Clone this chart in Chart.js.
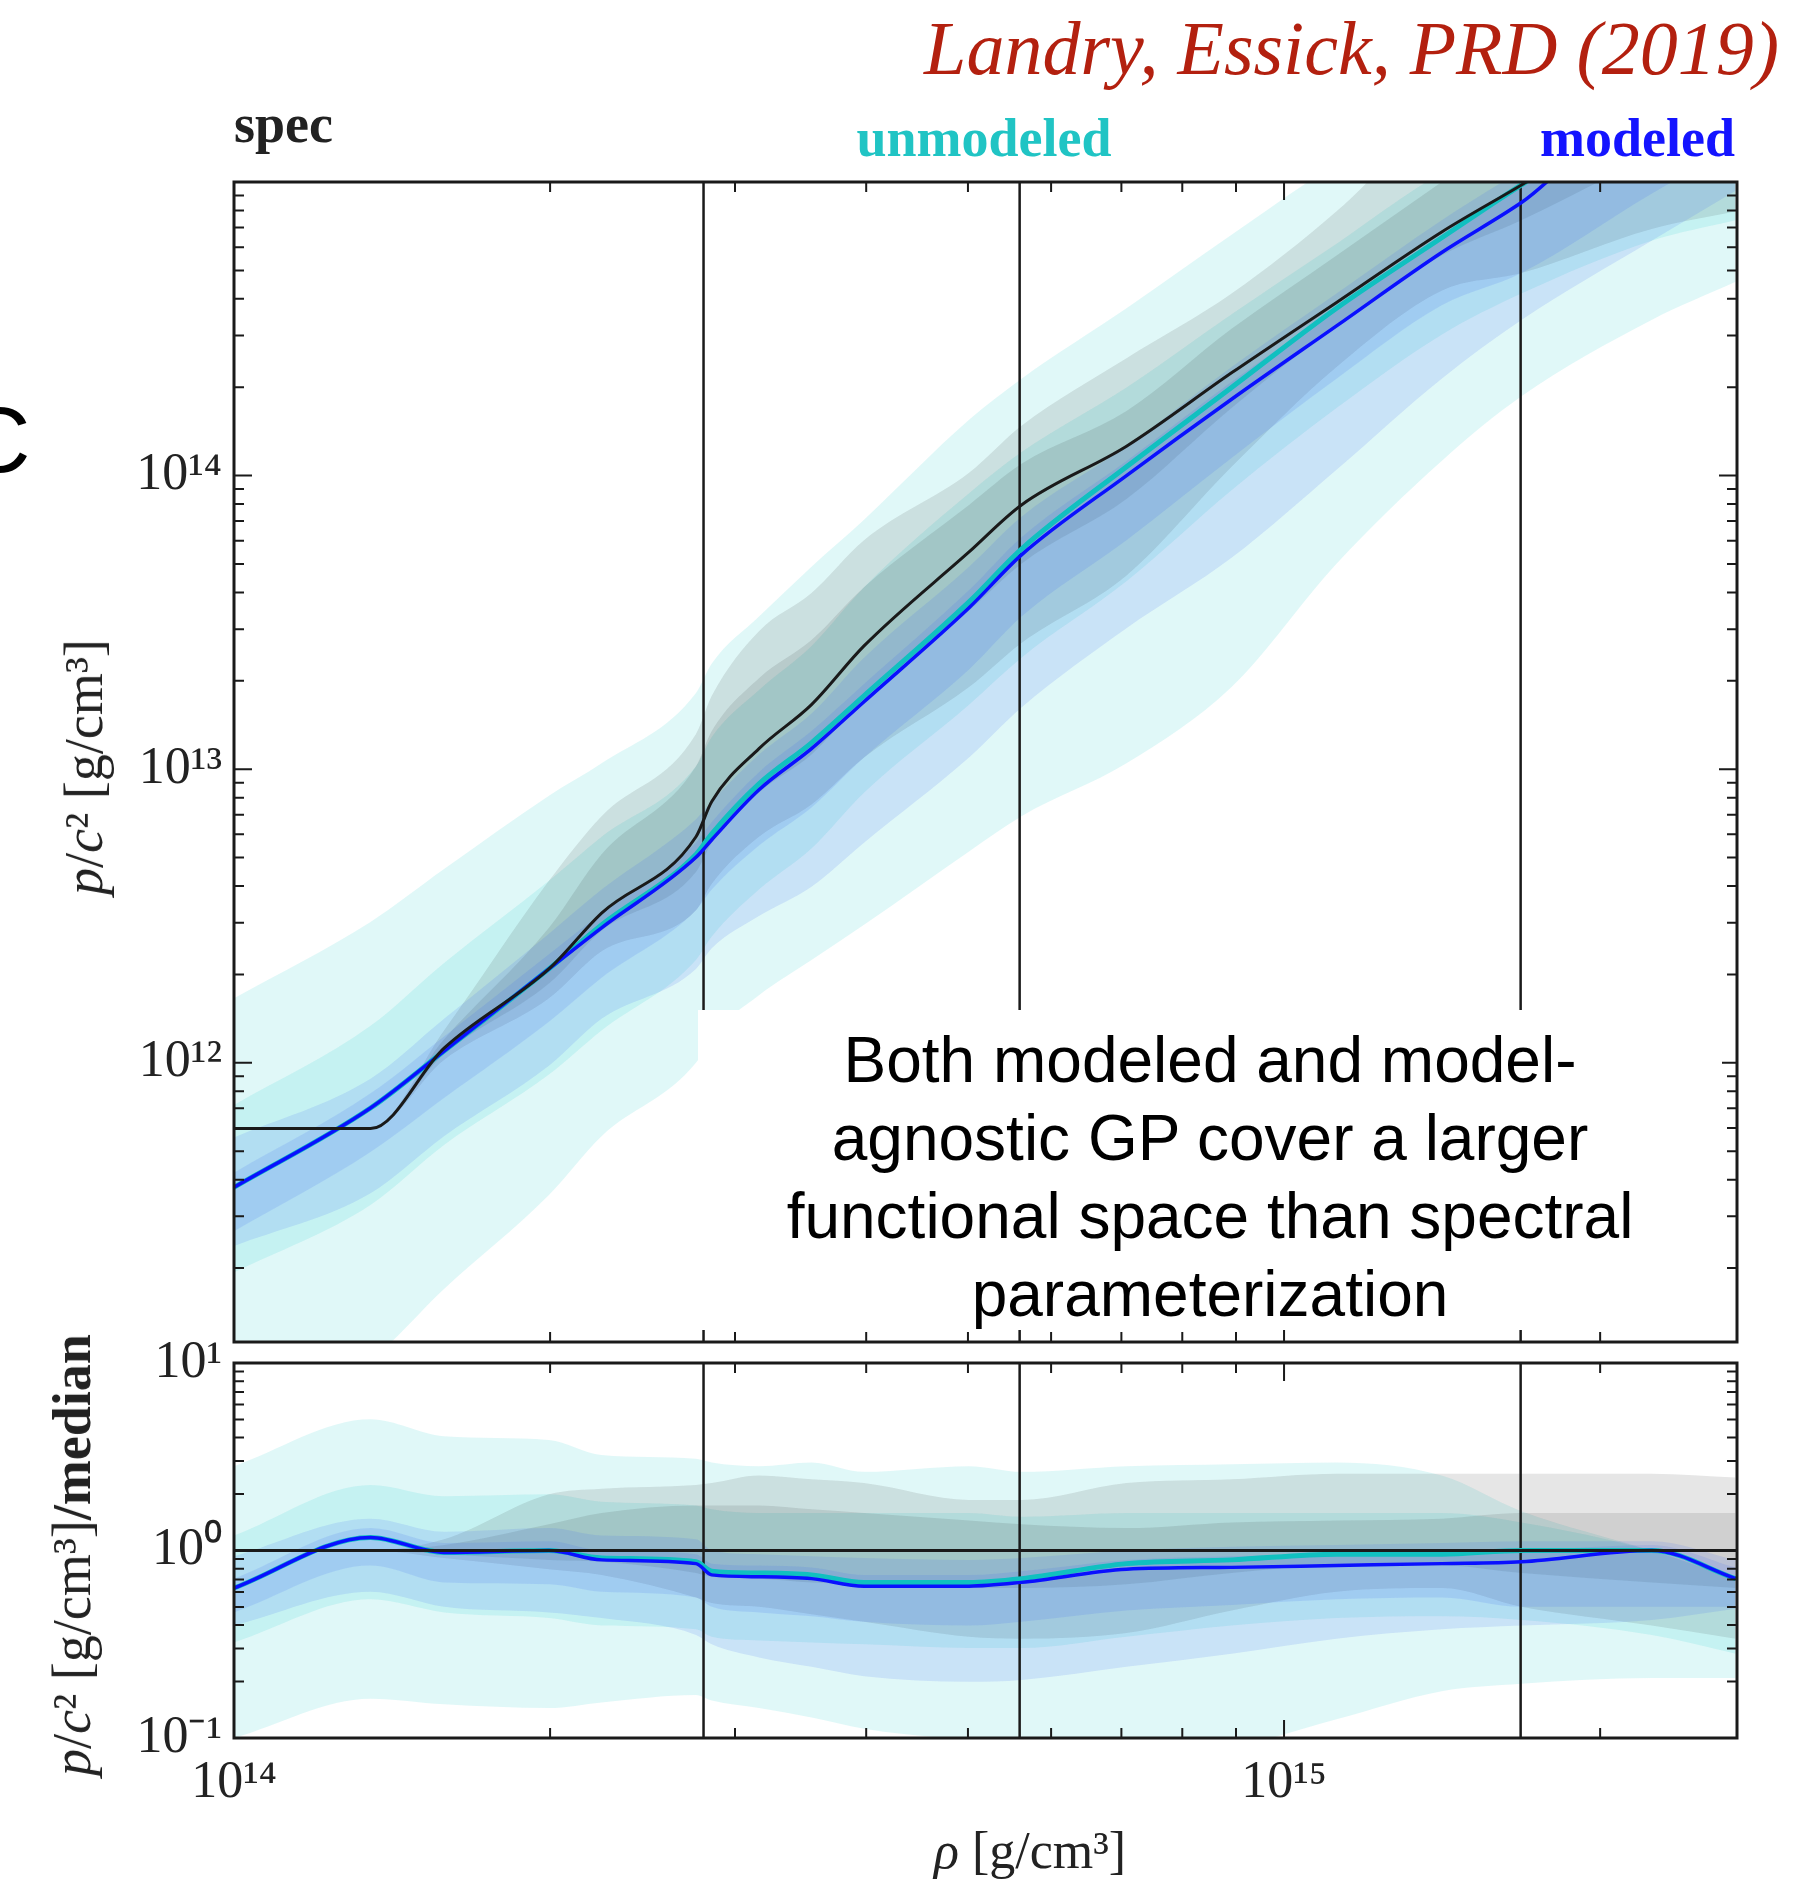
<!DOCTYPE html>
<html lang="en">
<head>
  <meta charset="UTF-8">
  <title>p/c² vs ρ – spec / unmodeled / modeled</title>
  <script src="https://cdn.jsdelivr.net/npm/chart.js"></script>
  <style>
    html, body { margin: 0; padding: 0; background: #fff; }
    #page { position: relative; width: 1808px; height: 1879px; overflow: hidden; font-family: "Liberation Serif", serif; color: #222; }
    #topWrap { position: absolute; left: 0; top: 0; }
    #botWrap { position: absolute; left: 0; top: 1320px; }
    .lbl { position: absolute; white-space: nowrap; line-height: 1; }
    #title { right: 29px; top: 48px; transform: translateY(-50%); font-style: italic; font-size: 76px; color: #b3200f; }
    #specLbl { left: 234px; top: 124px; transform: translateY(-50%); font-weight: bold; font-size: 54px; color: #222; }
    #unmodLbl { left: 984px; top: 138px; transform: translate(-50%, -50%); font-weight: bold; font-size: 54px; color: #20c4c4; }
    #modLbl { right: 73px; top: 138px; transform: translateY(-50%); font-weight: bold; font-size: 54px; color: #1414ff; }
    #cLbl { left: -36px; top: 440px; transform: translateY(-50%); font-family: "Liberation Sans", sans-serif; font-size: 92px; color: #000; }
    .ylab { font-size: 54px; transform: translate(-50%, -50%) rotate(-90deg); }
    #ylabTop { left: 84px; top: 767px; }
    #ylabBot { left: 72px; top: 1555px; }
    #xlab { left: 1030px; top: 1851px; transform: translate(-50%, -50%); font-size: 52px; }
    #note { position: absolute; left: 698px; top: 1010px; width: 1024px; height: 320px; background: #fff;
            font-family: "Liberation Sans", sans-serif; font-size: 64px; line-height: 78px; text-align: center;
            color: #000; padding-top: 11px; box-sizing: border-box; }
  </style>
</head>
<body>
<div id="page">
  <div id="topWrap"><canvas id="topChart" width="1808" height="1352"></canvas></div>
  <div id="botWrap"><canvas id="botChart" width="1808" height="559"></canvas></div>

  <div id="title" class="lbl">Landry, Essick, PRD (2019)</div>
  <div id="specLbl" class="lbl">spec</div>
  <div id="unmodLbl" class="lbl">unmodeled</div>
  <div id="modLbl" class="lbl">modeled</div>
  <div id="cLbl" class="lbl">C</div>
  <div id="ylabTop" class="lbl ylab"><i>p</i>/<i>c</i>² [g/cm³]</div>
  <div id="ylabBot" class="lbl ylab"><i>p</i>/<i>c</i>² [g/cm³]<b>/median</b></div>
  <div id="xlab" class="lbl"><i>ρ</i> [g/cm³]</div>
  <div id="note">Both modeled and model-<br>agnostic GP cover a larger<br>functional space than spectral<br>parameterization</div>
</div>

<script>
  // densities (g/cm^3) where the curves were read
  const rhoGrid = [1.0e14, 1.349e14, 1.585e14, 1.995e14, 2.239e14, 2.754e14, 2.851e14, 3.162e14, 3.548e14, 3.981e14,
                   5.012e14, 5.623e14, 7.079e14, 8.913e14, 1.122e15, 1.413e15, 1.683e15, 2.239e15, 2.692e15];

  // top panel, log10(p/c^2)
  const topSpecMed   = [11.776, 11.776, 12.05, 12.32, 12.51, 12.77, 12.89, 13.07, 13.22, 13.42, 13.74, 13.90, 14.10, 14.35, 14.59, 14.83, 14.99, 15.26, 15.42];
  const topModMed    = [11.576, 11.846, 12.04, 12.32, 12.46, 12.70, 12.76, 12.93, 13.07, 13.23, 13.55, 13.73, 14.00, 14.26, 14.51, 14.76, 14.93, 15.26, 15.27];
  const topUnmodMed  = [11.576, 11.846, 12.04, 12.32, 12.47, 12.71, 12.78, 12.95, 13.09, 13.25, 13.57, 13.75, 14.03, 14.30, 14.57, 14.81, 14.99, 15.26, 15.27];
  const topUnmod90Hi = [12.22, 12.48, 12.66, 12.91, 13.02, 13.26, 13.36, 13.52, 13.69, 13.85, 14.19, 14.33, 14.57, 14.82, 15.06, 15.23, 15.35, 15.45, 15.60];
  const topUnmod90Lo = [10.78, 10.99, 11.23, 11.55, 11.75, 12.00, 12.09, 12.23, 12.35, 12.47, 12.72, 12.84, 13.02, 13.28, 13.70, 14.05, 14.27, 14.53, 14.66];
  const topUnmod50Hi = [11.856, 12.126, 12.34, 12.62, 12.77, 13.01, 13.11, 13.27, 13.42, 13.62, 13.94, 14.08, 14.30, 14.55, 14.79, 15.03, 15.14, 15.26, 15.27];
  const topUnmod50Lo = [11.286, 11.516, 11.72, 11.96, 12.11, 12.35, 12.43, 12.59, 12.73, 12.92, 13.22, 13.38, 13.64, 13.95, 14.23, 14.48, 14.62, 14.80, 14.87];
  const topMod90Hi   = [11.746, 11.946, 12.15, 12.44, 12.59, 12.83, 12.89, 13.05, 13.19, 13.38, 13.69, 13.86, 14.10, 14.37, 14.62, 14.87, 15.04, 15.31, 15.37];
  const topMod90Lo   = [11.376, 11.556, 11.75, 11.99, 12.15, 12.32, 12.39, 12.50, 12.60, 12.75, 13.04, 13.21, 13.48, 13.72, 14.02, 14.33, 14.53, 14.80, 14.97];
  const topMod50Hi   = [11.626, 11.896, 12.09, 12.37, 12.51, 12.75, 12.82, 12.99, 13.13, 13.29, 13.61, 13.79, 14.05, 14.32, 14.57, 14.82, 14.99, 15.29, 15.33];
  const topMod50Lo   = [11.426, 11.696, 11.88, 12.14, 12.29, 12.52, 12.59, 12.74, 12.87, 13.04, 13.34, 13.52, 13.78, 14.06, 14.33, 14.58, 14.69, 14.96, 15.12];
  const topSpec90Hi  = [11.776, 11.776, 12.11, 12.62, 12.84, 13.12, 13.25, 13.47, 13.60, 13.78, 14.01, 14.17, 14.40, 14.62, 14.90, 15.24, 15.40, 15.67, 15.81];
  const topSpec90Lo  = [11.776, 11.776, 12.01, 12.22, 12.38, 12.52, 12.61, 12.77, 12.88, 13.04, 13.28, 13.43, 13.66, 14.03, 14.37, 14.63, 14.69, 14.84, 14.90];
  const topSpec50Hi  = [11.776, 11.776, 12.08, 12.46, 12.71, 13.01, 13.13, 13.31, 13.44, 13.62, 13.90, 14.04, 14.22, 14.50, 14.75, 15.00, 15.19, 15.46, 15.62];
  const topSpec50Lo  = [11.776, 11.776, 12.03, 12.27, 12.45, 12.65, 12.75, 12.92, 13.05, 13.24, 13.54, 13.70, 13.92, 14.23, 14.51, 14.75, 14.87, 15.09, 15.22];

  // bottom panel, log10(ratio to spec median)
  const botUnmod90Hi = [0.45, 0.70, 0.61, 0.59, 0.51, 0.49, 0.47, 0.45, 0.47, 0.42, 0.45, 0.42, 0.45, 0.46, 0.47, 0.40, 0.21, 0.00, -0.15];
  const botUnmod90Lo = [-1.00, -0.79, -0.82, -0.84, -0.81, -0.77, -0.80, -0.84, -0.89, -0.95, -1.02, -1.08, -1.10, -1.05, -0.90, -0.75, -0.71, -0.68, -0.68];
  const botUnmod50Hi = [0.08, 0.35, 0.29, 0.30, 0.26, 0.24, 0.22, 0.20, 0.20, 0.20, 0.20, 0.18, 0.20, 0.20, 0.20, 0.20, 0.15, 0.00, -0.15];
  const botUnmod50Lo = [-0.49, -0.26, -0.33, -0.36, -0.40, -0.42, -0.46, -0.48, -0.49, -0.50, -0.52, -0.52, -0.46, -0.40, -0.36, -0.35, -0.37, -0.45, -0.55];
  const botMod90Hi   = [-0.03, 0.17, 0.10, 0.12, 0.08, 0.06, 0.00, -0.02, -0.03, -0.04, -0.05, -0.04, 0.00, 0.02, 0.03, 0.04, 0.05, 0.05, -0.05];
  const botMod90Lo   = [-0.40, -0.22, -0.30, -0.33, -0.36, -0.45, -0.50, -0.57, -0.62, -0.67, -0.70, -0.69, -0.62, -0.55, -0.47, -0.42, -0.40, -0.37, -0.31];
  const botMod50Hi   = [-0.15, 0.12, 0.04, 0.05, 0.00, -0.02, -0.07, -0.08, -0.09, -0.13, -0.13, -0.11, -0.05, -0.03, -0.02, -0.01, 0.00, 0.03, -0.09];
  const botMod50Lo   = [-0.33, -0.08, -0.17, -0.18, -0.22, -0.25, -0.30, -0.33, -0.35, -0.38, -0.40, -0.38, -0.32, -0.29, -0.26, -0.25, -0.30, -0.30, -0.30];
  const botSpec90Hi  = [0, 0, 0.06, 0.30, 0.33, 0.35, 0.36, 0.40, 0.38, 0.36, 0.27, 0.27, 0.36, 0.38, 0.41, 0.41, 0.41, 0.41, 0.39];
  const botSpec90Lo  = [0, 0, -0.04, -0.10, -0.13, -0.25, -0.28, -0.30, -0.34, -0.38, -0.46, -0.47, -0.44, -0.32, -0.22, -0.20, -0.30, -0.40, -0.47];
  const botSpec50Hi  = [0, 0, 0.03, 0.14, 0.20, 0.24, 0.24, 0.24, 0.22, 0.20, 0.16, 0.14, 0.12, 0.15, 0.16, 0.17, 0.20, 0.20, 0.20];
  const botSpec50Lo  = [0, 0, -0.02, -0.05, -0.06, -0.12, -0.14, -0.15, -0.17, -0.18, -0.20, -0.20, -0.18, -0.12, -0.08, -0.08, -0.12, -0.17, -0.20];
  const botModMed    = [-0.20, 0.07, -0.01, 0.00, -0.05, -0.07, -0.13, -0.14, -0.15, -0.19, -0.19, -0.17, -0.10, -0.09, -0.08, -0.07, -0.06, 0.00, -0.15];
  const botUnmodMed  = [-0.20, 0.07, -0.01, 0.00, -0.04, -0.06, -0.11, -0.12, -0.13, -0.17, -0.17, -0.15, -0.07, -0.05, -0.02, -0.02, 0.00, 0.00, -0.15];

  // nuclear saturation density and multiples
  const refRho = [2.8e14, 5.6e14, 1.68e15];

  const xRange = [1e14, 2.7e15];
  const xTicks = [1e14, 1e15];
  const xTickLabels = ['10¹⁴', '10¹⁵'];
  const topYRange = [1.12e11, 1e15];
  const topYTicks = [1e12, 1e13, 1e14];
  const topYTickLabels = ['10¹²', '10¹³', '10¹⁴'];
  const botYRange = [0.1, 10];
  const botYTicks = [0.1, 1, 10];
  const botYTickLabels = ['10⁻¹', '10⁰', '10¹'];

  const CYAN_FILL = 'rgba(0, 200, 200, 0.12)';
  const GRAY_FILL = 'rgba(30, 30, 30, 0.11)';
  const BLUE_FILL = 'rgba(60, 100, 240, 0.14)';

  function pts(logs) {
    return rhoGrid.map((r, i) => ({ x: r, y: Math.pow(10, logs[i]) }));
  }

  function band(hi, lo, color, order) {
    return [
      { data: pts(hi), fill: '+1', backgroundColor: color, borderColor: 'transparent', borderWidth: 0, pointRadius: 0, cubicInterpolationMode: 'monotone', order },
      { data: pts(lo), fill: false, borderColor: 'transparent', borderWidth: 0, pointRadius: 0, cubicInterpolationMode: 'monotone', order }
    ];
  }

  function curve(logs, color, width, order) {
    return { data: pts(logs), fill: false, borderColor: color, borderWidth: width, pointRadius: 0, cubicInterpolationMode: 'monotone', order };
  }

  function vlines(yLo, yHi) {
    return refRho.map(r => ({
      data: [{ x: r, y: yLo }, { x: r, y: yHi }],
      fill: false, borderColor: '#1a1a1a', borderWidth: 2.5, pointRadius: 0, order: 1
    }));
  }

  function logTickValues(min, max) {
    const out = [];
    for (let d = Math.floor(Math.log10(min)); d <= Math.ceil(Math.log10(max)); d++) {
      for (let m = 1; m < 10; m++) {
        const v = m * Math.pow(10, d);
        if (v >= min * 0.999 && v <= max * 1.001) out.push([v, m === 1]);
      }
    }
    return out;
  }

  // inward ticks on all four sides plus the box, matplotlib style
  const frameTicks = {
    id: 'frameTicks',
    afterDatasetsDraw(chart) {
      const { ctx, chartArea: a } = chart;
      const sx = chart.scales.x, sy = chart.scales.y;
      ctx.save();
      ctx.strokeStyle = '#1a1a1a';
      ctx.lineWidth = 2;
      ctx.beginPath();
      logTickValues(sx.min, sx.max).forEach(([v, major]) => {
        const p = sx.getPixelForValue(v);
        const len = major ? 18 : 10;
        ctx.moveTo(p, a.bottom); ctx.lineTo(p, a.bottom - len);
        ctx.moveTo(p, a.top); ctx.lineTo(p, a.top + len);
      });
      logTickValues(sy.min, sy.max).forEach(([v, major]) => {
        const p = sy.getPixelForValue(v);
        const len = major ? 18 : 10;
        ctx.moveTo(a.left, p); ctx.lineTo(a.left + len, p);
        ctx.moveTo(a.right, p); ctx.lineTo(a.right - len, p);
      });
      ctx.stroke();
      ctx.lineWidth = 3;
      ctx.strokeRect(a.left, a.top, a.right - a.left, a.bottom - a.top);
      ctx.restore();
    }
  };

  const tickFont = { family: 'Liberation Serif', size: 52 };

  function yScale(range, ticks, labels) {
    return {
      type: 'logarithmic', min: range[0], max: range[1],
      afterFit: s => { s.width = 234; s.paddingTop = 0; s.paddingBottom = 0; },
      afterBuildTicks: s => { s.ticks = ticks.map(v => ({ value: v })); },
      ticks: { callback: (v, i) => labels[i], font: tickFont, color: '#222', padding: 12, autoSkip: false },
      grid: { display: false, drawTicks: false },
      border: { display: false }
    };
  }

  const commonOpts = {
    responsive: false,
    animation: false,
    events: [],
    plugins: { legend: { display: false }, tooltip: { enabled: false } }
  };

  // top panel
  new Chart(document.getElementById('topChart'), {
    type: 'line',
    data: {
      datasets: [
        curve(topSpecMed, '#1a1a1a', 3, 0),
        curve(topModMed, '#0a10ff', 3.5, 0),
        curve(topUnmodMed, '#10c0c0', 5, 0.5),
        ...vlines(1e10, 1e16),
        ...band(topMod50Hi, topMod50Lo, BLUE_FILL, 2),
        ...band(topMod90Hi, topMod90Lo, BLUE_FILL, 3),
        ...band(topSpec50Hi, topSpec50Lo, GRAY_FILL, 4),
        ...band(topSpec90Hi, topSpec90Lo, GRAY_FILL, 5),
        ...band(topUnmod50Hi, topUnmod50Lo, CYAN_FILL, 6),
        ...band(topUnmod90Hi, topUnmod90Lo, CYAN_FILL, 7)
      ]
    },
    options: {
      ...commonOpts,
      layout: { padding: { top: 182, right: 71, bottom: 10, left: 0 } },
      scales: {
        x: { type: 'logarithmic', min: xRange[0], max: xRange[1], display: false },
        y: yScale(topYRange, topYTicks, topYTickLabels)
      }
    },
    plugins: [frameTicks]
  });

  // bottom panel: ratio to the spec median
  new Chart(document.getElementById('botChart'), {
    type: 'line',
    data: {
      datasets: [
        { data: [{ x: xRange[0], y: 1 }, { x: xRange[1], y: 1 }], fill: false, borderColor: '#1a1a1a', borderWidth: 3, pointRadius: 0, order: 0 },
        curve(botModMed, '#0a10ff', 3.5, 0),
        curve(botUnmodMed, '#10c0c0', 5, 0.5),
        ...vlines(0.01, 100),
        ...band(botMod50Hi, botMod50Lo, BLUE_FILL, 2),
        ...band(botMod90Hi, botMod90Lo, BLUE_FILL, 3),
        ...band(botSpec50Hi, botSpec50Lo, GRAY_FILL, 4),
        ...band(botSpec90Hi, botSpec90Lo, GRAY_FILL, 5),
        ...band(botUnmod50Hi, botUnmod50Lo, CYAN_FILL, 6),
        ...band(botUnmod90Hi, botUnmod90Lo, CYAN_FILL, 7)
      ]
    },
    options: {
      ...commonOpts,
      layout: { padding: { top: 43, right: 71, bottom: 0, left: 0 } },
      scales: {
        x: {
          type: 'logarithmic', min: xRange[0], max: xRange[1],
          afterFit: s => { s.height = 141; s.paddingLeft = 0; s.paddingRight = 0; },
          afterBuildTicks: s => { s.ticks = xTicks.map(v => ({ value: v })); },
          ticks: { callback: (v, i) => xTickLabels[i], font: tickFont, color: '#222', padding: 14, maxRotation: 0, autoSkip: false },
          grid: { display: false, drawTicks: false },
          border: { display: false }
        },
        y: yScale(botYRange, botYTicks, botYTickLabels)
      }
    },
    plugins: [frameTicks]
  });
</script>
</body>
</html>
